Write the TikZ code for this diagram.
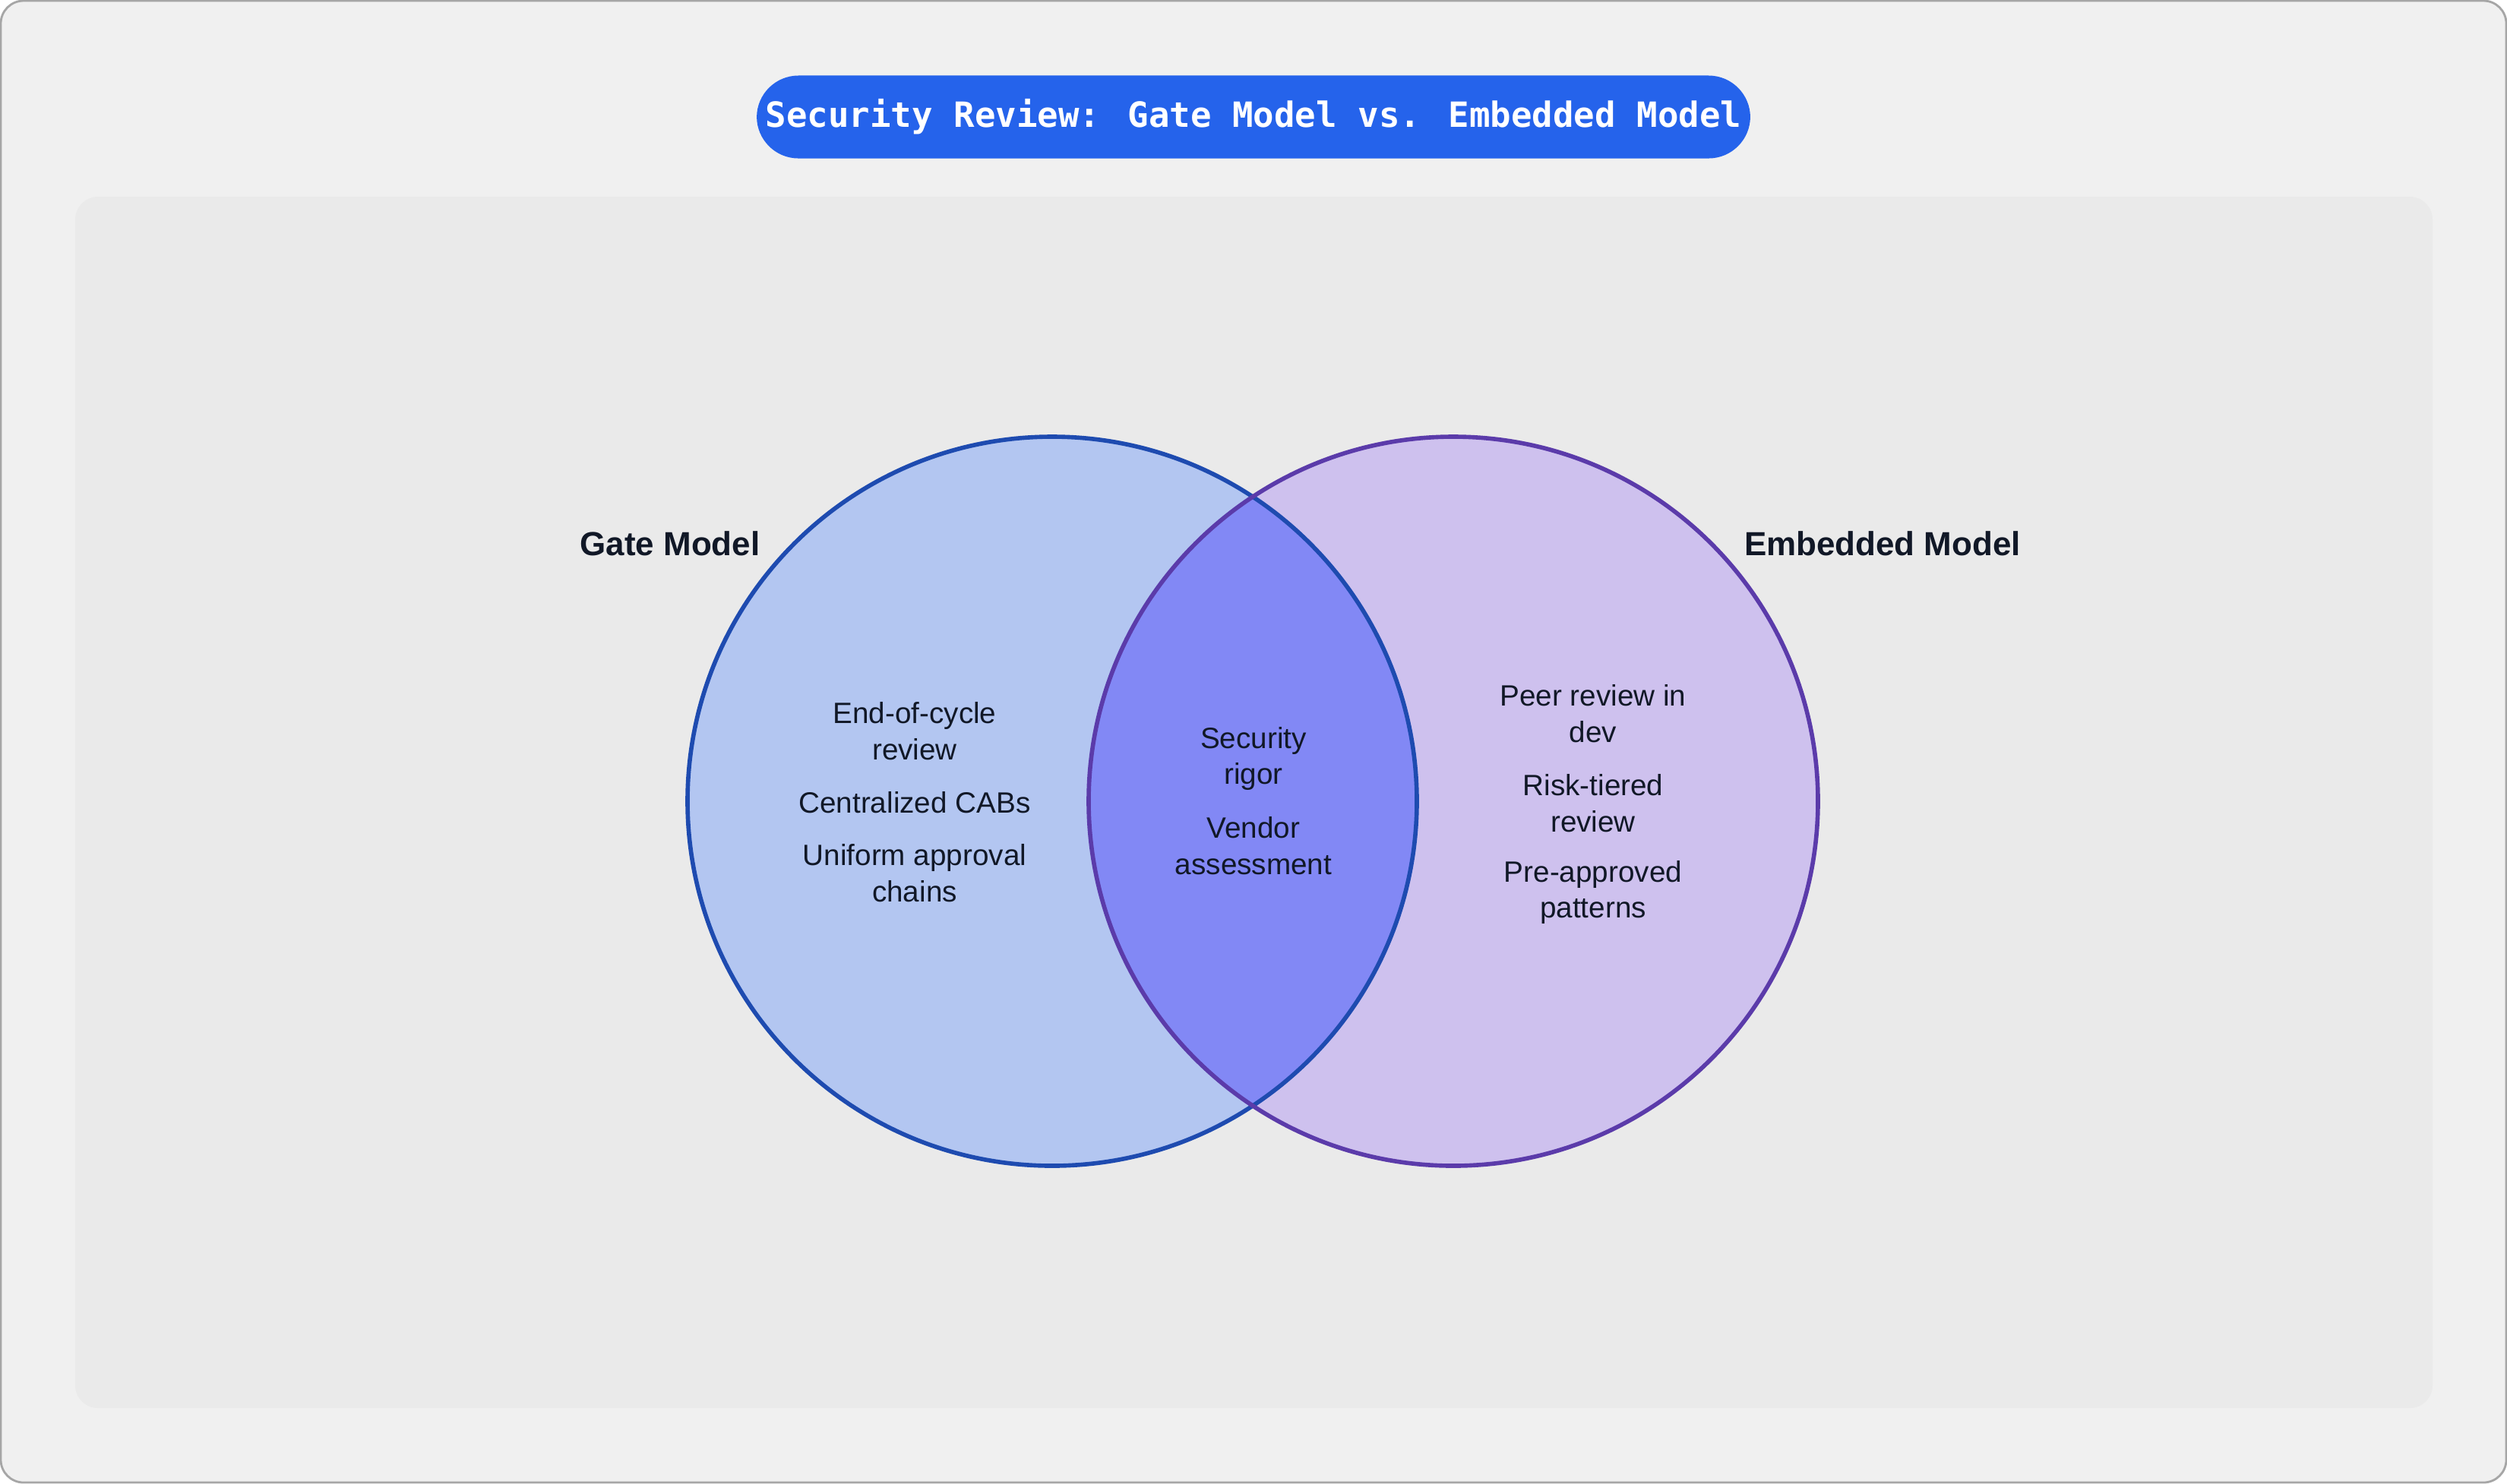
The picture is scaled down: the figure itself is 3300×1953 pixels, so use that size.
\documentclass[tikz,border=0pt]{standalone}
\usepackage{fontspec}
\setmainfont{Liberation Sans}
\newfontfamily\titlefont{DejaVu Sans Mono}
\definecolor{outerbg}{HTML}{F0F0F0}
\definecolor{panel}{HTML}{EAEAEA}
\definecolor{pill}{HTML}{2563EB}
\definecolor{lfill}{HTML}{B3C6F1}
\definecolor{lstroke}{HTML}{1E4BB0}
\definecolor{rfill}{HTML}{CEC1EE}
\definecolor{rstroke}{HTML}{5B3BAA}
\definecolor{mid}{HTML}{8288F5}
\definecolor{txt}{HTML}{111827}
\begin{document}
\begin{tikzpicture}[x=0.01cm,y=-0.01cm,
  item/.style={align=center,text=txt,font=\fontsize{11}{13.6}\selectfont},
  head/.style={text=txt,font=\fontsize{12.5}{15}\selectfont\bfseries}]
\useasboundingbox (0,0) rectangle (3300,1953);
\draw[fill=outerbg,draw=gray!70,line width=0.8pt,rounded corners=0.3cm] (1,1) rectangle (3299,1952);
\fill[panel,rounded corners=0.3cm] (99,259) rectangle (3202,1854);
\node[fill=pill,rounded corners=0.55cm,minimum width=12.55cm,minimum height=1.09cm,text=white,font=\titlefont\bfseries\fontsize{13}{15}\selectfont] (title) at (1650,154) {Security Review: Gate Model vs. Embedded Model};
\coordinate (L) at (1385,1055);
\coordinate (R) at (1913,1055);
\fill[lfill] (L) circle (480);
\fill[rfill] (R) circle (480);
\begin{scope}
\clip (L) circle (480);
\fill[mid] (R) circle (480);
\end{scope}
\draw[lstroke,line width=1.6pt] (L) circle (480);
\draw[rstroke,line width=1.6pt] (R) circle (480);
\node[head] (gm) at (882,716) {Gate Model};
\node[head] (em) at (2478,716) {Embedded Model};
\node[item] (l1) at (1204,963) {End-of-cycle\\review};
\node[item] (l2) at (1204,1057) {Centralized CABs};
\node[item] (l3) at (1204,1150) {Uniform approval\\chains};
\node[item] (c1) at (1650,999) {Security\\rigor};
\node[item] (c2) at (1650,1114) {Vendor\\assessment};
\node[item] (r1) at (2097,940) {Peer review in\\dev};
\node[item] (r2) at (2097,1058) {Risk-tiered\\review};
\node[item] (r3) at (2097,1175) {Pre-approved\\patterns};
\end{tikzpicture}
\end{document}
